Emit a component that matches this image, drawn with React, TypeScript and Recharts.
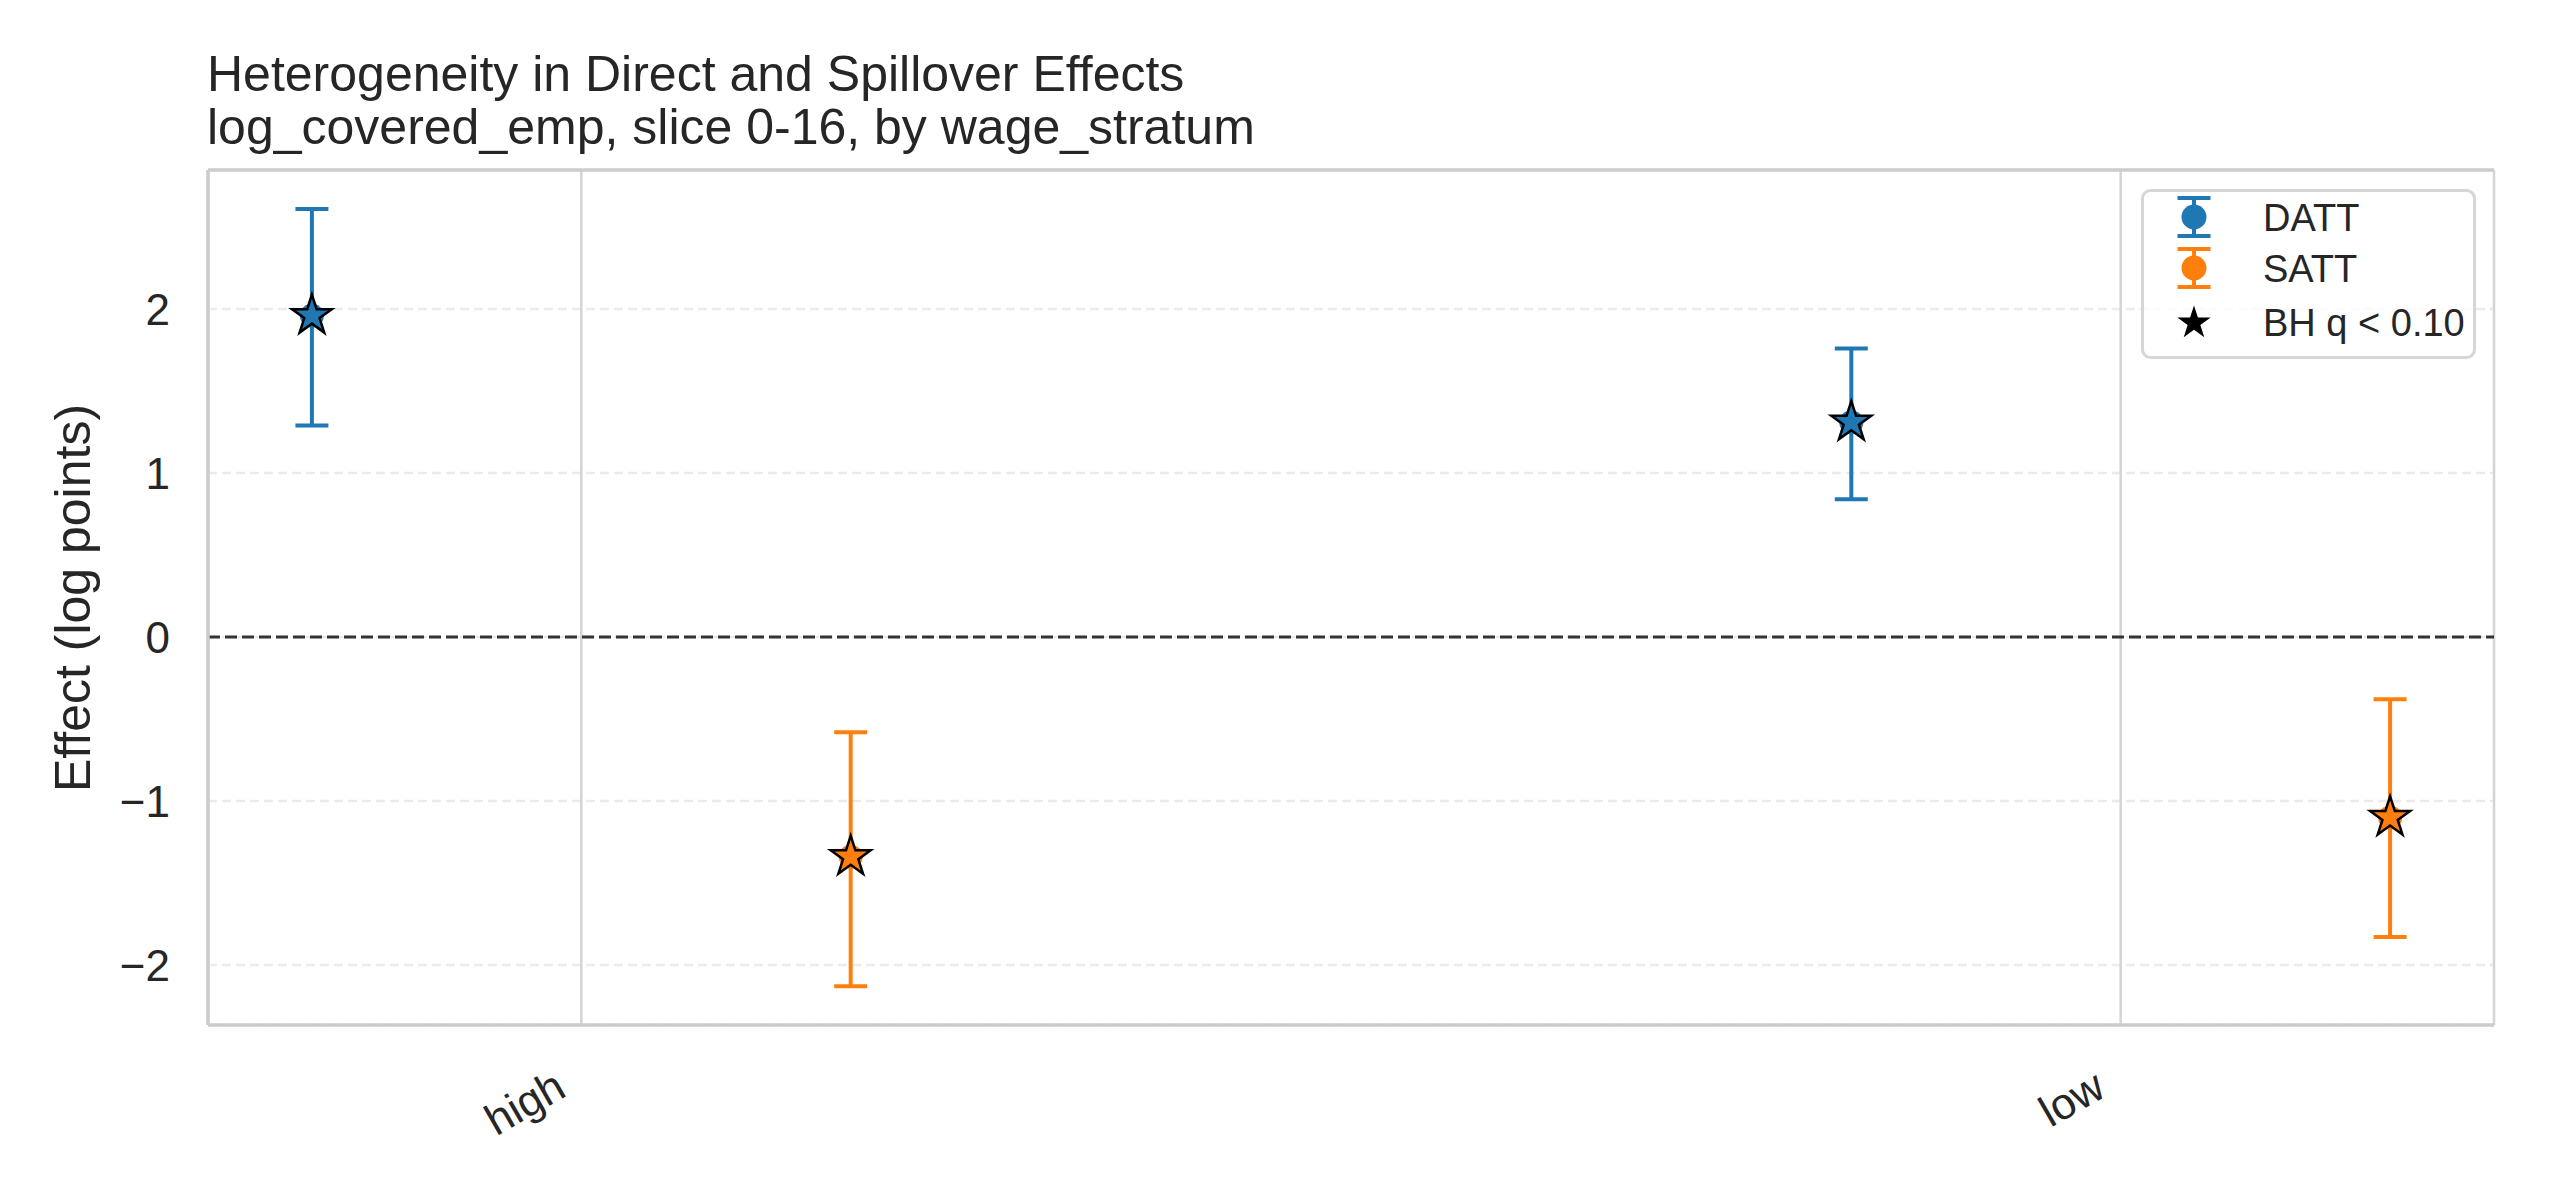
import { ComposedChart, Scatter, ErrorBar, XAxis, YAxis, CartesianGrid, ReferenceLine, Legend } from "recharts"

// values
const strata = ["high", "low"]
const dattEst = [1.96, 1.31]
const dattLow = [1.29, 0.84]
const dattHigh = [2.61, 1.76]
const sattEst = [-1.34, -1.1]
const sattLow = [-2.13, -1.83]
const sattHigh = [-0.58, -0.38]
const dattSig = [true, true]
const sattSig = [true, true]
const yTicks = [-2, -1, 0, 1, 2]
const xTicks = [0, 1]
const dodge = 0.175

const BLUE = "#1f77b4"
const ORANGE = "#ff7f0e"
const INK = "#262626"
const SPINE = "#cccccc"
const FONT = '"Liberation Sans", Arial, Helvetica, sans-serif'

const W = 2534
const H = 1184
const Y_DOMAIN: [number, number] = [-2.366, 2.848]
const X_DOMAIN: [number, number] = [-0.2425, 1.2425]

const buildRows = (est: number[], lo: number[], hi: number[], sig: boolean[], shift: number) =>
  strata.map((name, i) => ({
    name,
    x: i + shift,
    y: est[i],
    err: [est[i] - lo[i], hi[i] - est[i]],
    sig: sig[i],
  }))

const dattRows = buildRows(dattEst, dattLow, dattHigh, dattSig, -dodge)
const sattRows = buildRows(sattEst, sattLow, sattHigh, sattSig, dodge)

const starPoints = (cx: number, cy: number, outer: number, inner: number) => {
  const pts: string[] = []
  for (let k = 0; k < 10; k++) {
    const r = k % 2 === 0 ? outer : inner
    const a = -Math.PI / 2 + (k * Math.PI) / 5
    pts.push(`${cx + r * Math.cos(a)},${cy + r * Math.sin(a)}`)
  }
  return pts.join(" ")
}

const makeMarker = (color: string) => (props: any) => {
  const { cx, cy, payload } = props
  if (cx == null || cy == null) return <g />
  return (
    <g>
      <circle cx={cx} cy={cy} r={12} fill={color} />
      {payload?.sig && (
        <polygon points={starPoints(cx, cy, 21, 21 * 0.382)} fill={color} stroke="#000" strokeWidth={2.5} strokeLinejoin="miter" />
      )}
    </g>
  )
}

const fmtY = (v: number) => (v < 0 ? `\u2212${Math.abs(v)}` : `${v}`)

const XTick = (props: any) => {
  const { x, y, payload } = props
  const ax = x - 13
  const ay = y + 70
  return (
    <text x={ax} y={ay} textAnchor="end" fontSize={44} fill={INK} fontFamily={FONT} transform={`rotate(-30, ${ax}, ${ay})`}>
      {strata[payload.value]}
    </text>
  )
}

const ErrIcon = ({ cx, cy, color }: { cx: number; cy: number; color: string }) => (
  <g stroke={color} strokeWidth={4}>
    <line x1={cx} y1={cy - 19} x2={cx} y2={cy + 19} />
    <line x1={cx - 16.5} y1={cy - 19} x2={cx + 16.5} y2={cy - 19} />
    <line x1={cx - 16.5} y1={cy + 19} x2={cx + 16.5} y2={cy + 19} />
    <circle cx={cx} cy={cy} r={12.5} fill={color} stroke="none" />
  </g>
)

const LegendBox = () => (
  <svg width={335} height={170} style={{ display: "block" }}>
    <rect x={1.5} y={1.5} width={332} height={167} rx={8} fill="#fff" fillOpacity={0.8} stroke="#d6d6d6" strokeWidth={3} />
    <ErrIcon cx={53} cy={28} color={BLUE} />
    <text x={122} y={42} fontSize={38} fill={INK} fontFamily={FONT}>DATT</text>
    <ErrIcon cx={53} cy={79} color={ORANGE} />
    <text x={122} y={93} fontSize={38} fill={INK} fontFamily={FONT}>SATT</text>
    <polygon points={starPoints(53, 134, 17.5, 17.5 * 0.382)} fill="#000" />
    <text x={122} y={147} fontSize={38} fill={INK} fontFamily={FONT}>BH q &lt; 0.10</text>
  </svg>
)

export default function App() {
  return (
    <div style={{ position: "relative", width: W, height: H, fontFamily: FONT, background: "#fff" }}>
      <ComposedChart width={W} height={H} margin={{ top: 162, right: 48, left: 50, bottom: 0 }}>
        <CartesianGrid vertical={false} stroke="#ebebeb" strokeWidth={2.5} strokeDasharray="9 5" horizontalPoints={undefined} />
        <CartesianGrid horizontal={false} stroke="#d4d4d4" strokeWidth={2.5} />
        <XAxis
          type="number"
          dataKey="x"
          domain={X_DOMAIN}
          ticks={xTicks}
          allowDataOverflow
          height={167}
          tickSize={0}
          tickMargin={0}
          tickLine={false}
          axisLine={{ stroke: SPINE, strokeWidth: 3.5 }}
          tick={<XTick />}
          interval={0}
        />
        <YAxis
          type="number"
          domain={Y_DOMAIN}
          ticks={yTicks}
          allowDataOverflow
          width={150}
          tickSize={0}
          tickMargin={38}
          tickLine={false}
          tickFormatter={fmtY}
          tick={{ fontSize: 44, fill: INK, fontFamily: FONT }}
          axisLine={{ stroke: SPINE, strokeWidth: 3.5 }}
          interval={0}
        />
        <YAxis
          yAxisId="right"
          orientation="right"
          type="number"
          domain={Y_DOMAIN}
          ticks={yTicks}
          width={0}
          tick={false}
          tickLine={false}
          axisLine={{ stroke: SPINE, strokeWidth: 3.5 }}
        />
        <ReferenceLine y={Y_DOMAIN[1]} stroke={SPINE} strokeWidth={3.5} />
        <ReferenceLine y={0} stroke="#333333" strokeWidth={3} strokeDasharray="12 5" />
        <Scatter name="DATT" data={dattRows} dataKey="y" fill={BLUE} shape={makeMarker(BLUE)} isAnimationActive={false}>
          <ErrorBar dataKey="err" direction="y" width={16.5} stroke={BLUE} strokeWidth={4} isAnimationActive={false} />
        </Scatter>
        <Scatter name="SATT" data={sattRows} dataKey="y" fill={ORANGE} shape={makeMarker(ORANGE)} isAnimationActive={false}>
          <ErrorBar dataKey="err" direction="y" width={16.5} stroke={ORANGE} strokeWidth={4} isAnimationActive={false} />
        </Scatter>
        <Legend
          layout="horizontal"
          verticalAlign="middle"
          align="center"
          wrapperStyle={{ left: 2133, top: 181, width: 335, height: 170 }}
          content={() => <LegendBox />}
        />
      </ComposedChart>
      <svg width={W} height={H} style={{ position: "absolute", left: 0, top: 0, pointerEvents: "none" }}>
        <text x={199} y={83} fontSize={50} fill={INK} fontFamily={FONT}>Heterogeneity in Direct and Spillover Effects</text>
        <text x={199} y={136} fontSize={50} fill={INK} fontFamily={FONT}>log_covered_emp, slice 0-16, by wage_stratum</text>
        <text x={82} y={590} fontSize={50} fill={INK} fontFamily={FONT} textAnchor="middle" transform="rotate(-90, 82, 590)">
          Effect (log points)
        </text>
      </svg>
    </div>
  )
}
